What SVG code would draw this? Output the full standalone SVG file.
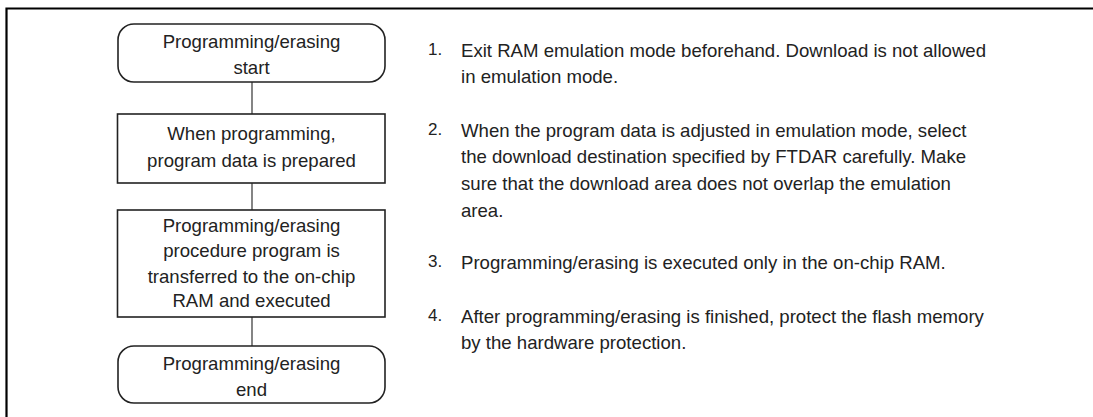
<svg xmlns="http://www.w3.org/2000/svg" width="1093" height="417" viewBox="0 0 1093 417">
<style>
.box{fill:#fff;stroke:#222;stroke-width:1.6}
.t{font-family:"Liberation Sans",Arial,sans-serif;font-size:18.6px;fill:#222;text-anchor:middle}
.n{font-family:"Liberation Sans",Arial,sans-serif;font-size:18.6px;fill:#222}
.num{font-family:"Liberation Sans",Arial,sans-serif;font-size:17px;fill:#222}
.c{stroke:#333;stroke-width:1.2;fill:none}
</style>
<rect width="1093" height="417" fill="#fff"/>
<g id="frame"><path d="M6.5,417 V8.5 H1093" fill="none" stroke="#000" stroke-width="2.2"/></g>
<g id="connectors">
<line class="c" x1="252" y1="82" x2="252" y2="114"/>
<line class="c" x1="252" y1="183" x2="252" y2="210"/>
<line class="c" x1="252" y1="317" x2="252" y2="346"/>
</g>
<g id="start">
<rect class="box" x="118" y="24" width="267" height="58" rx="16" ry="16"/>
<text class="t" x="251.5" y="48">Programming/erasing</text>
<text class="t" x="251.5" y="74">start</text>
</g>
<g id="prepare">
<rect class="box" x="117.5" y="114" width="267.5" height="69"/>
<text class="t" x="251.5" y="140">When programming,</text>
<text class="t" x="251.5" y="167">program data is prepared</text>
</g>
<g id="transfer">
<rect class="box" x="117.5" y="210" width="267.5" height="107"/>
<text class="t" x="251.5" y="232">Programming/erasing</text>
<text class="t" x="251.5" y="257">procedure program is</text>
<text class="t" x="251.5" y="283">transferred to the on-chip</text>
<text class="t" x="251.5" y="307">RAM and executed</text>
</g>
<g id="end">
<rect class="box" x="118" y="346" width="267" height="57" rx="16" ry="16"/>
<text class="t" x="251.5" y="370">Programming/erasing</text>
<text class="t" x="251.5" y="396">end</text>
</g>
<g id="notes">
<text class="num" x="428" y="55">1.</text>
<text class="n" x="461" y="57">Exit RAM emulation mode beforehand. Download is not allowed</text>
<text class="n" x="461" y="83">in emulation mode.</text>
<text class="num" x="428" y="135">2.</text>
<text class="n" x="461" y="137">When the program data is adjusted in emulation mode, select</text>
<text class="n" x="461" y="163">the download destination specified by FTDAR carefully. Make</text>
<text class="n" x="461" y="190">sure that the download area does not overlap the emulation</text>
<text class="n" x="461" y="217">area.</text>
<text class="num" x="428" y="267">3.</text>
<text class="n" x="461" y="269">Programming/erasing is executed only in the on-chip RAM.</text>
<text class="num" x="428" y="321">4.</text>
<text class="n" x="461" y="323">After programming/erasing is finished, protect the flash memory</text>
<text class="n" x="461" y="349">by the hardware protection.</text>
</g>
</svg>
